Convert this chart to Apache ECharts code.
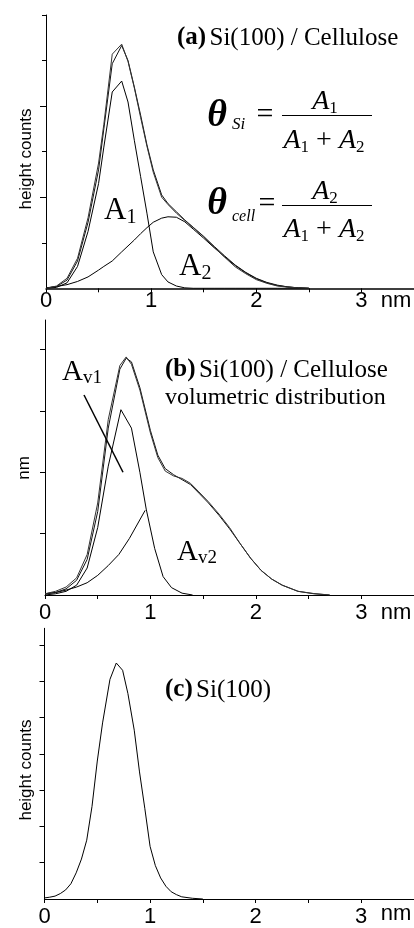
<!DOCTYPE html>
<html><head><meta charset="utf-8">
<script src="https://cdn.jsdelivr.net/npm/echarts@6/dist/echarts.min.js"></script>
<style>html,body{margin:0;padding:0;background:#fff}#c{width:414px;height:928px}</style>
</head><body><div id="c"></div>
<script>
// ---------- Panel (a) Si(100) / Cellulose : height counts ----------
const xA   = [0, 0.1, 0.2, 0.3, 0.4, 0.5, 0.55, 0.63, 0.72, 0.78, 0.84, 0.9, 0.96, 1.02, 1.1, 1.16, 1.24, 1.32, 1.4, 1.5, 1.6, 1.7, 1.8, 1.9, 2.0, 2.1, 2.2, 2.3, 2.4, 2.5];
const aData= [0, 0.05, 0.22, 0.66, 1.55, 2.75, 3.6, 5.14, 5.36, 4.98, 4.4, 3.75, 3.12, 2.55, 2.0, 1.84, 1.65, 1.49, 1.33, 1.13, 0.9, 0.68, 0.47, 0.32, 0.19, 0.11, 0.05, 0.025, 0.01, 0];
const aFit = [0, 0.04, 0.18, 0.6, 1.45, 2.6, 3.5, 4.93, 5.33, 5.0, 4.42, 3.8, 3.15, 2.6, 2.05, 1.86, 1.68, 1.5, 1.34, 1.14, 0.92, 0.71, 0.51, 0.35, 0.22, 0.13, 0.07, 0.03, 0.01, 0];
const aA1  = [0, 0.02, 0.12, 0.48, 1.25, 2.3, 3.1, 4.31, 4.55, 4.09, 3.25, 2.45, 1.65, 0.8, 0.3, 0.14, 0.05, 0.01, 0, 0, 0, 0, 0, 0, 0, 0, 0, 0, 0, 0];
const aA2  = [0.01, 0.04, 0.08, 0.15, 0.25, 0.4, 0.48, 0.6, 0.8, 0.93, 1.06, 1.2, 1.33, 1.45, 1.54, 1.57, 1.56, 1.46, 1.3, 1.1, 0.89, 0.69, 0.5, 0.34, 0.21, 0.12, 0.06, 0.03, 0.01, 0];

// ---------- Panel (b) volumetric distribution ----------
const xB   = [0, 0.1, 0.2, 0.3, 0.4, 0.5, 0.6, 0.71, 0.77, 0.82, 0.9, 1.0, 1.07, 1.14, 1.22, 1.3, 1.38, 1.46, 1.55, 1.65, 1.75, 1.85, 1.95, 2.05, 2.15, 2.25, 2.4, 2.55, 2.7];
const bData= [0.01, 0.03, 0.065, 0.14, 0.33, 0.75, 1.43, 1.87, 1.94, 1.88, 1.67, 1.32, 1.12, 1.01, 0.97, 0.95, 0.91, 0.84, 0.76, 0.66, 0.55, 0.42, 0.3, 0.2, 0.13, 0.08, 0.03, 0.012, 0];
const bFit = [0.01, 0.02, 0.05, 0.12, 0.29, 0.68, 1.36, 1.84, 1.93, 1.9, 1.69, 1.34, 1.14, 1.03, 0.98, 0.94, 0.9, 0.83, 0.75, 0.65, 0.54, 0.42, 0.3, 0.2, 0.13, 0.08, 0.03, 0.01, 0];
const xBv1 = [0, 0.1, 0.2, 0.3, 0.4, 0.5, 0.6, 0.72, 0.82, 0.9, 0.96, 1.04, 1.12, 1.2, 1.3, 1.4];
const bAv1 = [0, 0.01, 0.03, 0.08, 0.22, 0.55, 1.05, 1.51, 1.36, 1.0, 0.7, 0.38, 0.15, 0.06, 0.015, 0];
const xBv2 = [0, 0.1, 0.2, 0.3, 0.4, 0.5, 0.6, 0.7, 0.8, 0.95];
const bAv2 = [0.01, 0.02, 0.04, 0.065, 0.1, 0.16, 0.24, 0.33, 0.46, 0.69];
const pointerAv1 = [[0.37, 1.63], [0.74, 1.0]];

// ---------- Panel (c) Si(100) ----------
const xC  = [0, 0.05, 0.1, 0.15, 0.2, 0.25, 0.3, 0.35, 0.4, 0.45, 0.5, 0.55, 0.62, 0.68, 0.74, 0.79, 0.85, 0.9, 0.95, 1.0, 1.05, 1.1, 1.15, 1.2, 1.25, 1.3, 1.4, 1.5];
const cSi = [0.03, 0.05, 0.08, 0.15, 0.25, 0.42, 0.72, 1.1, 1.62, 2.55, 3.8, 4.85, 6.05, 6.5, 6.3, 5.66, 4.65, 3.5, 2.5, 1.45, 0.92, 0.58, 0.35, 0.2, 0.12, 0.06, 0.02, 0];

// ---------- Axis ticks / labels ----------
const xTickValues  = [0, 0.5, 1, 1.5, 2, 2.5, 3, 3.5];
const xLabelValues = [0, 1, 2, 3];
const yMaxA = 6,     yMajorA = [2, 4], yMinorA = [1, 3, 5, 6];
const yMaxB = 2.241, yTicksB = [0.5, 1, 1.5, 2];
const yMaxC = 7.456, yTicksC = [1, 2, 3, 4, 5, 6, 7];

const zip = (xs, ys) => xs.map((x, i) => [x, ys[i]]);
const SANS = 'Liberation Sans', SERIF = 'Liberation Serif';

const grids = [
  {left: 46,   top: 15,    width: 369.25, height: 273.3},
  {left: 45,   top: 320,   width: 369.25, height: 275},
  {left: 44.5, top: 628.3, width: 370.6,  height: 273.4}
];
const labelMargins = [2, 7, 7];

const xAxes = grids.map((g, i) => ({
  type: 'value', gridIndex: i, min: 0, max: 3.5, interval: 0.5,
  axisLine: {lineStyle: {color: '#000', width: i === 0 ? 1.5 : 1.2}},
  axisTick: {customValues: xTickValues, length: 4, lineStyle: {color: '#000'}},
  axisLabel: {customValues: xLabelValues, color: '#000', fontSize: 22, fontFamily: SANS, margin: labelMargins[i]},
  splitLine: {show: false}
}));

function yAx(grid, max, ticks, len, showLine) {
  return {
    type: 'value', gridIndex: grid, min: 0, max: max, position: 'left',
    axisLine: {show: showLine, lineStyle: {color: '#000', width: 1}},
    axisTick: {show: true, customValues: ticks, length: len, lineStyle: {color: '#000'}},
    axisLabel: {show: false}, splitLine: {show: false}
  };
}
const yAxes = [
  yAx(0, yMaxA, yMajorA, 6, true),
  yAx(0, yMaxA, yMinorA, 4, false),
  yAx(1, yMaxB, yTicksB, 5, true),
  yAx(2, yMaxC, yTicksC, 5, true)
];

function line(xi, yi, xs, ys, color, extra) {
  return Object.assign({
    type: 'line', xAxisIndex: xi, yAxisIndex: yi, data: zip(xs, ys),
    showSymbol: false, symbol: 'none', silent: true, animation: false,
    lineStyle: {color: color, width: 1}
  }, extra || {});
}

const series = [
  line(0, 0, xA, aA2, '#000'),
  line(0, 0, xA, aA1, '#000'),
  line(0, 0, xA, aFit, '#111'),
  line(0, 0, xA, aData, '#333'),
  line(1, 2, xBv2, bAv2, '#000'),
  line(1, 2, xBv1, bAv1, '#000', {
    markLine: {silent: true, symbol: 'none', label: {show: false}, animation: false,
      lineStyle: {color: '#000', width: 1.5, type: 'solid'},
      data: [[{coord: pointerAv1[0]}, {coord: pointerAv1[1]}]]}
  }),
  line(1, 2, xB, bFit, '#111'),
  line(1, 2, xB, bData, '#333'),
  line(2, 3, xC, cSi, '#000')
];

// ---------- Text annotations ----------
function txt(x, y, text, st, extra) {
  return Object.assign({type: 'text', x: x, y: y, z: 100,
    style: Object.assign({text: text, fill: '#000'}, st)}, extra || {});
}
const subRich = (fs, sfs, italic) => ({
  i: {fontFamily: SERIF, fontSize: fs, fontStyle: italic ? 'italic' : 'normal', lineHeight: fs + 2},
  s: {fontFamily: SERIF, fontSize: sfs, lineHeight: sfs + 4, verticalAlign: 'bottom'},
  o: {fontFamily: SERIF, fontSize: fs, lineHeight: fs + 2}
});
const titleRich = {
  b: {fontFamily: SERIF, fontWeight: 'bold', fontSize: 25},
  n: {fontFamily: SERIF, fontSize: 25}
};

const graphics = [
  // titles
  txt(177, 38, '{b|(a)} {n|Si(100) / Cellulose}', {rich: titleRich, align: 'left', verticalAlign: 'middle'}),
  txt(165, 370, '{b|(b)} {n|Si(100) / Cellulose}', {rich: titleRich, align: 'left', verticalAlign: 'middle'}),
  txt(165, 398, 'volumetric distribution', {fontFamily: SERIF, fontSize: 24, align: 'left', verticalAlign: 'middle'}),
  txt(165, 690, '{b|(c)} {n|Si(100)}', {rich: titleRich, align: 'left', verticalAlign: 'middle'}),
  // y axis names
  txt(26, 159, 'height counts', {fontFamily: SANS, fontSize: 17, align: 'center', verticalAlign: 'middle'}, {rotation: Math.PI / 2}),
  txt(24, 468, 'nm', {fontFamily: SANS, fontSize: 17, align: 'center', verticalAlign: 'middle'}, {rotation: Math.PI / 2}),
  txt(26, 770, 'height counts', {fontFamily: SANS, fontSize: 17, align: 'center', verticalAlign: 'middle'}, {rotation: Math.PI / 2}),
  // x unit labels
  txt(396, 301, 'nm', {fontFamily: SANS, fontSize: 22, align: 'center', verticalAlign: 'middle'}),
  txt(396, 613, 'nm', {fontFamily: SANS, fontSize: 22, align: 'center', verticalAlign: 'middle'}),
  txt(396, 914, 'nm', {fontFamily: SANS, fontSize: 22, align: 'center', verticalAlign: 'middle'}),
  // peak labels
  txt(104, 211, '{i|A}{s|1}', {rich: subRich(31, 20, false), align: 'left', verticalAlign: 'middle'}),
  txt(179, 267, '{i|A}{s|2}', {rich: subRich(31, 20, false), align: 'left', verticalAlign: 'middle'}),
  txt(62, 372, '{i|A}{s|v1}', {rich: subRich(29, 19, false), align: 'left', verticalAlign: 'middle'}),
  txt(177, 552, '{i|A}{s|v2}', {rich: subRich(29, 19, false), align: 'left', verticalAlign: 'middle'}),
  // formulas
  txt(217, 116, 'θ', {fontFamily: SERIF, fontSize: 38, fontStyle: 'italic', fontWeight: 'bold', align: 'center', verticalAlign: 'middle'}),
  txt(232, 125, 'Si', {fontFamily: SERIF, fontSize: 17, fontStyle: 'italic', align: 'left', verticalAlign: 'middle'}),
  txt(265, 115, '=', {fontFamily: SERIF, fontSize: 30, align: 'center', verticalAlign: 'middle'}),
  {type: 'line', z: 100, shape: {x1: 282, y1: 115.5, x2: 372, y2: 115.5}, style: {stroke: '#000', lineWidth: 1}},
  txt(325, 102, '{i|A}{s|1}', {rich: subRich(28, 17, true), align: 'center', verticalAlign: 'middle'}),
  txt(324, 141, '{i|A}{s|1}{o| + }{i|A}{s|2}', {rich: subRich(28, 17, true), align: 'center', verticalAlign: 'middle'}),
  txt(217, 204, 'θ', {fontFamily: SERIF, fontSize: 38, fontStyle: 'italic', fontWeight: 'bold', align: 'center', verticalAlign: 'middle'}),
  txt(232, 217, 'cell', {fontFamily: SERIF, fontSize: 16, fontStyle: 'italic', align: 'left', verticalAlign: 'middle'}),
  txt(267, 204, '=', {fontFamily: SERIF, fontSize: 30, align: 'center', verticalAlign: 'middle'}),
  {type: 'line', z: 100, shape: {x1: 282, y1: 205.5, x2: 372, y2: 205.5}, style: {stroke: '#000', lineWidth: 1}},
  txt(325, 192, '{i|A}{s|2}', {rich: subRich(28, 17, true), align: 'center', verticalAlign: 'middle'}),
  txt(324, 230, '{i|A}{s|1}{o| + }{i|A}{s|2}', {rich: subRich(28, 17, true), align: 'center', verticalAlign: 'middle'})
];

const chart = echarts.init(document.getElementById('c'), null, {renderer: 'canvas'});
chart.setOption({
  backgroundColor: '#fff',
  animation: false,
  grid: grids,
  xAxis: xAxes,
  yAxis: yAxes,
  series: series,
  graphic: {elements: graphics}
});
</script>
</body></html>
